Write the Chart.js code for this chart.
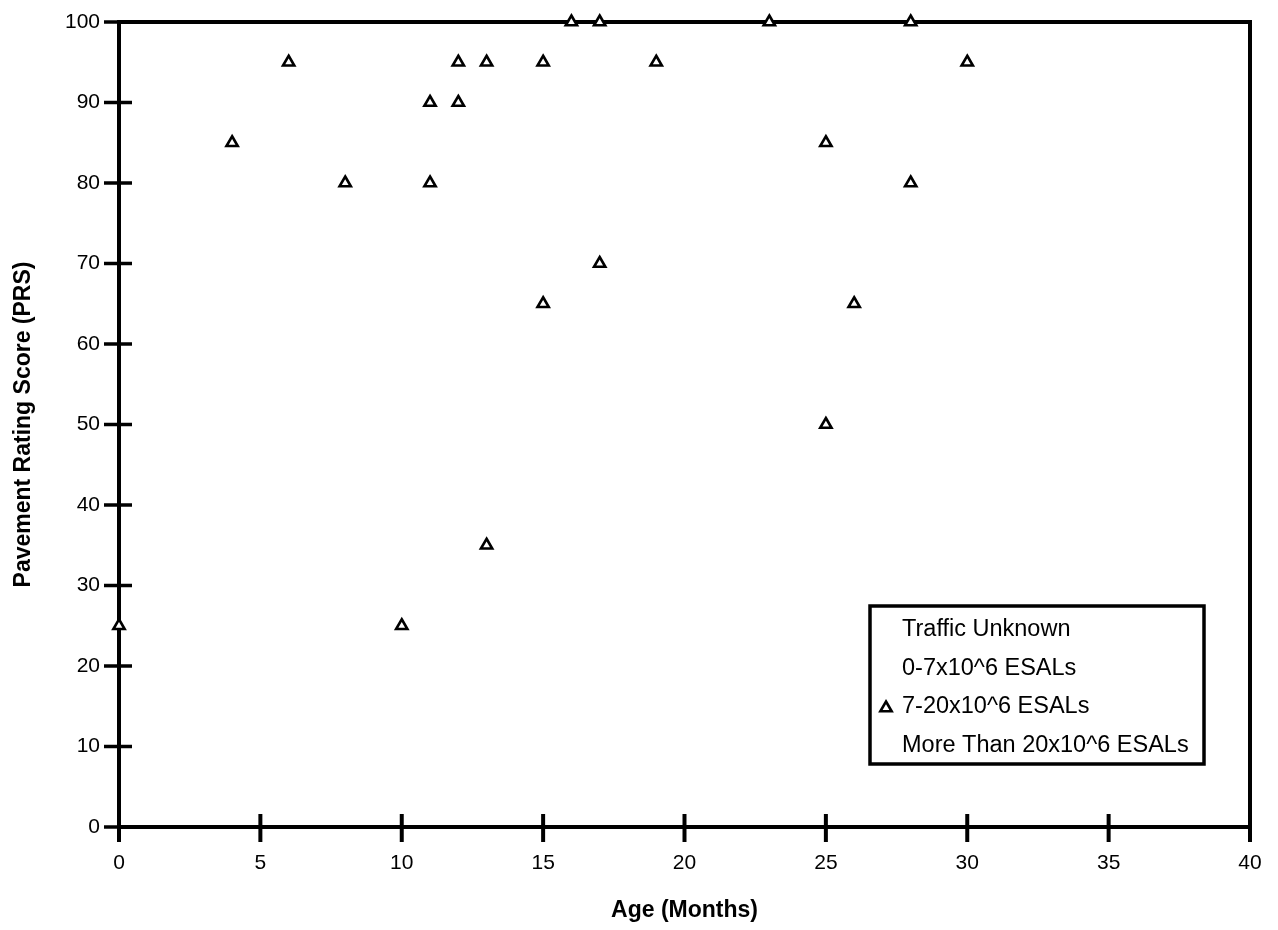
<!DOCTYPE html>
<html>
<head>
<meta charset="utf-8">
<script src="https://cdn.jsdelivr.net/npm/chart.js@4/dist/chart.umd.min.js"></script>
<style>
  html, body { margin: 0; padding: 0; background: #fff; }
  #wrap { width: 1278px; height: 930px; position: relative; }
</style>
</head>
<body>
<div id="wrap"><canvas id="c"></canvas></div>
<script>
// Age of each section (months) and its pavement rating score
const ageMonths    = [0, 4, 6, 8, 10, 11, 11, 12, 12, 13, 13, 15, 15, 16, 17, 17, 19, 23, 25, 25, 26, 28, 28, 30];
const ratingScores = [25, 85, 95, 80, 25, 90, 80, 95, 90, 95, 35, 95, 65, 100, 100, 70, 95, 100, 85, 50, 65, 100, 80, 95];

// Traffic classes shown in the key; only the 7-20 million ESAL class has sections
const trafficClasses = ['Traffic Unknown', '0-7x10^6 ESALs', '7-20x10^6 ESALs', 'More Than 20x10^6 ESALs'];

// Axis tick values
const xTickValues = [0, 5, 10, 15, 20, 25, 30, 35, 40];
const yTickValues = [0, 10, 20, 30, 40, 50, 60, 70, 80, 90, 100];

const FONT = "'Liberation Sans', Arial, Helvetica, sans-serif";
const MARKER_RADIUS = 6.5;
const MARKER_BORDER = 2.6;

const points = ageMonths.map((a, i) => ({ x: a, y: ratingScores[i] }));

const datasets = trafficClasses.map((name, i) => ({
  label: name,
  data: i === 2 ? points : [],
  pointStyle: 'triangle',
  pointRadius: MARKER_RADIUS,
  pointHoverRadius: MARKER_RADIUS,
  pointBorderWidth: MARKER_BORDER,
  pointBackgroundColor: '#fff',
  pointBorderColor: '#000',
  showLine: false,
  clip: false
}));

// Heavy box frame with tick marks crossing the axes
const framePlugin = {
  id: 'frame',
  beforeDatasetsDraw(chart) {
    const { ctx, chartArea: a, scales: { x, y } } = chart;
    ctx.save();
    ctx.strokeStyle = '#000';
    ctx.lineCap = 'butt';
    ctx.lineWidth = 4;
    ctx.strokeRect(a.left, a.top, a.right - a.left, a.bottom - a.top);
    ctx.lineWidth = 3.5;
    yTickValues.forEach(v => {
      const py = y.getPixelForValue(v);
      ctx.beginPath();
      ctx.moveTo(a.left - 15, py);
      ctx.lineTo((v === 0 || v === 100) ? a.left : a.left + 13, py);
      ctx.stroke();
    });
    ctx.lineWidth = 4;
    xTickValues.forEach(v => {
      const px = x.getPixelForValue(v);
      ctx.beginPath();
      ctx.moveTo(px, a.bottom + 15);
      ctx.lineTo(px, (v === 0 || v === 40) ? a.bottom : a.bottom - 13);
      ctx.stroke();
    });
    ctx.restore();
  }
};

// Boxed key in the lower right of the plot
const keyPlugin = {
  id: 'keyBox',
  afterDraw(chart) {
    const { ctx, chartArea: a } = chart;
    const right = a.right - 46, bottom = a.bottom - 63;
    const w = 334, h = 158;
    const left = right - w, top = bottom - h;
    ctx.save();
    ctx.fillStyle = '#fff';
    ctx.fillRect(left, top, w, h);
    ctx.strokeStyle = '#000';
    ctx.lineWidth = 3.5;
    ctx.strokeRect(left, top, w, h);
    ctx.font = '23.5px ' + FONT;
    ctx.fillStyle = '#000';
    ctx.textBaseline = 'alphabetic';
    ctx.textAlign = 'left';
    chart.data.datasets.forEach((ds, i) => {
      const base = top + 30 + i * 38.5;
      ctx.fillText(ds.label, left + 32, base);
      if (ds.data.length) {
        const cx = left + 16, cy = base - 5, r = MARKER_RADIUS;
        ctx.beginPath();
        ctx.moveTo(cx, cy - r);
        ctx.lineTo(cx + r * 0.866, cy + r / 2);
        ctx.lineTo(cx - r * 0.866, cy + r / 2);
        ctx.closePath();
        ctx.fillStyle = '#fff';
        ctx.fill();
        ctx.lineWidth = MARKER_BORDER;
        ctx.strokeStyle = '#000';
        ctx.stroke();
        ctx.fillStyle = '#000';
      }
    });
    ctx.restore();
  }
};

new Chart(document.getElementById('c'), {
  type: 'scatter',
  data: { datasets },
  plugins: [framePlugin, keyPlugin],
  options: {
    responsive: true,
    maintainAspectRatio: false,
    animation: false,
    events: [],
    layout: { padding: { top: 22, right: 28, left: 0, bottom: 0 } },
    plugins: {
      legend: { display: false },
      tooltip: { enabled: false }
    },
    scales: {
      x: {
        type: 'linear',
        min: 0, max: 40,
        afterBuildTicks(s) { s.ticks = xTickValues.map(v => ({ value: v })); },
        afterFit(s) { s.height = 103; s.paddingLeft = 0; s.paddingRight = 0; },
        ticks: { autoSkip: false, maxRotation: 0, color: '#000', padding: 24, font: { family: FONT, size: 21 } },
        grid: { display: false, drawTicks: false },
        border: { display: false },
        title: {
          display: true, text: 'Age (Months)', color: '#000',
          font: { family: FONT, size: 23, weight: 'bold' },
          padding: { top: 0, bottom: 6 }
        }
      },
      y: {
        type: 'linear',
        min: 0, max: 100,
        afterBuildTicks(s) { s.ticks = yTickValues.map(v => ({ value: v })); },
        afterFit(s) { s.width = 119; s.paddingTop = 0; s.paddingBottom = 0; },
        ticks: { autoSkip: false, color: '#000', padding: 19, font: { family: FONT, size: 21 } },
        grid: { display: false, drawTicks: false },
        border: { display: false },
        title: {
          display: true, text: 'Pavement Rating Score (PRS)', color: '#000',
          font: { family: FONT, size: 23, weight: 'bold' },
          padding: { top: 10, bottom: 0 }
        }
      }
    }
  }
});
</script>
</body>
</html>
